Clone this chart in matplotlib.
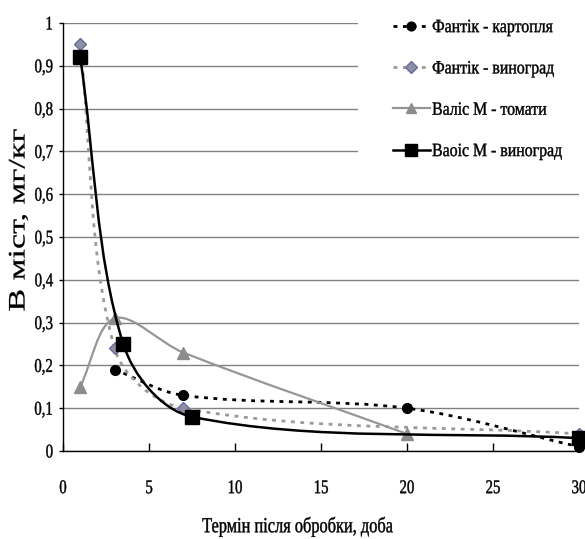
import matplotlib
matplotlib.use("Agg")
import matplotlib.pyplot as plt
import numpy as np
from matplotlib.path import Path
from matplotlib.patches import PathPatch, Rectangle
from matplotlib.lines import Line2D
from matplotlib.patheffects import AbstractPathEffect
from matplotlib.transforms import Affine2D

# ---- data ----
fk_x = [3, 7, 20, 30]
fk_y = [0.19, 0.13, 0.10, 0.01]
fv_x = [1, 3, 7, 30]
fv_y = [0.95, 0.24, 0.10, 0.04]
vt_x = [1, 3, 7, 20]
vt_y = [0.15, 0.31, 0.23, 0.04]
vv_x = [1, 3.5, 7.5, 30]
vv_y = [0.92, 0.25, 0.08, 0.03]

labels = ["Фантік - картопля", "Фантік - виноград", "Валіс М - томати", "Ваоіс М - виноград"]
xticks = [0, 5, 10, 15, 20, 25, 30]
yticks = [0, 0.1, 0.2, 0.3, 0.4, 0.5, 0.6, 0.7, 0.8, 0.9, 1.0]
ytick_labels = ["0", "0,1", "0,2", "0,3", "0,4", "0,5", "0,6", "0,7", "0,8", "0,9", "1"]
xlabel = "Термін після обробки, доба"
ylabel = "В міст, мг/кг"

plt.rcParams['font.family'] = ['Liberation Serif', 'DejaVu Serif']


class Condense(AbstractPathEffect):
    """Squeeze text glyphs along x (narrow Times look) and thicken slightly."""
    def __init__(self, sx=0.75, anchor='center', sy=1.0, stroke=0.3):
        super().__init__()
        self.sx = sx
        self.sy = sy
        self.anchor = anchor
        self.stroke = stroke

    def draw_path(self, renderer, gc, tpath, affine, rgbFace=None):
        ext = tpath.get_extents(affine)
        if self.anchor == 'left':
            ax0 = ext.x0
        elif self.anchor == 'right':
            ax0 = ext.x1
        else:
            ax0 = 0.5 * (ext.x0 + ext.x1)
        ay0 = 0.5 * (ext.y0 + ext.y1)
        squeeze = (Affine2D().translate(-ax0, -ay0)
                   .scale(self.sx, self.sy).translate(ax0, ay0))
        tr = affine + squeeze
        if self.stroke > 0 and rgbFace is not None:
            gc0 = renderer.new_gc()
            gc0.copy_properties(gc)
            gc0.set_foreground(rgbFace)
            gc0.set_linewidth(self.stroke)
            renderer.draw_path(gc0, tpath, tr, rgbFace)
            gc0.restore()
        else:
            renderer.draw_path(gc, tpath, tr, rgbFace)


W, H = 585, 539
fig = plt.figure(figsize=(W / 100, H / 100), dpi=100)
ax = fig.add_axes([63 / W, 1 - 451 / H, (579 - 63) / W, (451 - 23) / H])
ax.set_xlim(0, 30)
ax.set_ylim(0, 1)


def smooth_path(xs, ys):
    """Excel-style smoothed line: Bezier segments with tangents weighted by
    neighbouring segment lengths (computed in screen space)."""
    P = ax.transData.transform(np.column_stack([xs, ys]).astype(float))
    n = len(P)
    verts = [P[0]]
    codes = [Path.MOVETO]

    def d(a, b):
        return float(np.hypot(*(b - a)))

    for i in range(n - 1):
        p0 = P[i - 1] if i > 0 else P[i]
        p1 = P[i]
        p2 = P[i + 1]
        p3 = P[i + 2] if i + 2 < n else P[i + 1]
        d01, d12, d23 = d(p0, p1), d(p1, p2), d(p2, p3)
        f1 = d12 / (d01 + d12) / 3.0 if d01 + d12 > 0 else 0
        f2 = d12 / (d12 + d23) / 3.0 if d12 + d23 > 0 else 0
        c1 = p1 + (p2 - p0) * f1
        c2 = p2 - (p3 - p1) * f2
        verts += [c1, c2, p2]
        codes += [Path.CURVE4] * 3
    verts = ax.transData.inverted().transform(np.array(verts))
    return Path(verts, codes)


series = [
    dict(x=fk_x, y=fk_y, color='black', lw=2.0, ls=(0, (1.4, 2.0)),
         marker='o', ms=7, mfc='black', mec='black'),
    dict(x=fv_x, y=fv_y, color='#9a9a9a', lw=2.0, ls=(0, (1.4, 2.0)),
         marker='D', ms=6.5, mfc='#8f8fa3', mec='#6a6aa0'),
    dict(x=vt_x, y=vt_y, color='#969696', lw=1.6, ls='-',
         marker='^', ms=8, mfc='#8c8c8c', mec='#8c8c8c'),
    dict(x=vv_x, y=vv_y, color='black', lw=1.8, ls='-',
         marker='s', ms=10, mfc='black', mec='black'),
]

handles = []
for k, s in enumerate(series):
    patch = PathPatch(smooth_path(s['x'], s['y']), facecolor='none',
                      edgecolor=s['color'], lw=s['lw'], linestyle=s['ls'],
                      zorder=3 + k, capstyle='butt')
    ax.add_patch(patch)
    ax.plot(s['x'], s['y'], linestyle='none', marker=s['marker'], ms=s['ms'],
            mfc=s['mfc'], mec=s['mec'], zorder=3.5 + k, clip_on=False)
    handles.append(Line2D([0], [0], color=s['color'], lw=s['lw'], linestyle=s['ls'],
                          marker=s['marker'], ms=s['ms'] * 0.9, mfc=s['mfc'], mec=s['mec']))

ax.set_xticks(xticks)
ax.set_yticks(yticks)
ax.set_yticklabels(ytick_labels)
ax.grid(axis='y', color='#808080', lw=1.0)
ax.set_axisbelow(True)
for side in ['top', 'right']:
    ax.spines[side].set_visible(False)
ax.spines['left'].set_linewidth(1.0)
ax.spines['bottom'].set_linewidth(1.0)
ax.tick_params(axis='x', direction='in', length=6, width=1, pad=21, labelsize=14)
ax.tick_params(axis='y', direction='out', length=3, width=1, pad=4, labelsize=14)

xl = fig.text(298 / W, 1 - 527 / H, xlabel, ha='center', va='center', fontsize=15.5)
xl.set_path_effects([Condense(0.76, 'center')])
yl = fig.text(19 / W, 1 - 220 / H, ylabel, ha='center', va='center', rotation=90,
              fontsize=17)
# rotated text: stretch along its baseline (screen y) to mimic the spaced lettering
yl.set_path_effects([Condense(1.0, 'center', sy=1.45, stroke=0.2)])

# white legend background covering the gridlines
fig.patches.append(Rectangle((358 / W, 1 - 158 / H), (W - 358) / W, 158 / H,
                             transform=fig.transFigure, facecolor='white',
                             edgecolor='none', zorder=2))
leg = fig.legend(handles, labels, loc='upper left',
                 bbox_to_anchor=(393 / W, 1 - 19 / H), frameon=False,
                 fontsize=13.5, handlelength=1.95, handletextpad=0.13,
                 labelspacing=1.29, borderpad=0, borderaxespad=0)
leg.set_zorder(10)
for t in leg.get_texts():
    t.set_path_effects([Condense(0.845, 'left')])

fig.canvas.draw()
for tk in ax.xaxis.get_major_ticks():
    tk.label1.set_path_effects([Condense(0.76, 'center')])
for tk in ax.yaxis.get_major_ticks():
    tk.label1.set_path_effects([Condense(0.76, 'right')])

fig.savefig("out.png", dpi=100)
